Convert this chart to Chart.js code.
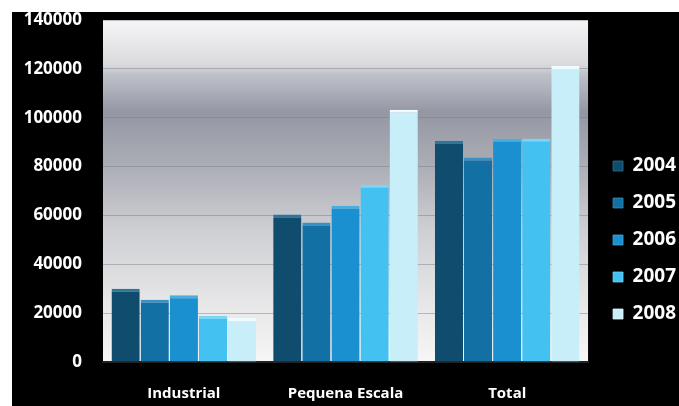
<!DOCTYPE html>
<html><head><meta charset="utf-8">
<script src="https://cdn.jsdelivr.net/npm/chart.js@4"></script>
<style>html,body{margin:0;padding:0;background:#000;overflow:hidden;}#wrap{width:679px;height:406px;}canvas{display:block;}</style>
</head><body><div id="wrap"><canvas id="c" width="679" height="406"></canvas></div>
<script>
const categories = ['Industrial', 'Pequena Escala', 'Total'];
const years = ['2004', '2005', '2006', '2007', '2008'];
const v2004 = [30000, 60400, 90600];
const v2005 = [25500, 57100, 83700];
const v2006 = [27300, 64000, 91400];
const v2007 = [18800, 72600, 91400];
const v2008 = [18000, 103300, 121200];
const yTicks = [0, 20000, 40000, 60000, 80000, 100000, 120000, 140000];

const seriesValues = [v2004, v2005, v2006, v2007, v2008];
const fills = ['#0f4c6d', '#1370a5', '#1a90d0', '#43c2f2', '#c8eefa'];
const tops  = ['#2f7596', '#3a90c0', '#48aee0', '#7ad6f6', '#eefbff'];

const bgPlugin = {
  id: 'bg',
  beforeDraw(chart) {
    const ctx = chart.ctx, a = chart.chartArea;
    ctx.save();
    ctx.fillStyle = '#ffffff';
    ctx.fillRect(0, 0, chart.width, chart.height);
    ctx.fillStyle = '#000000';
    ctx.fillRect(12, 12, chart.width - 12, chart.height - 12);
    const g = ctx.createLinearGradient(0, a.top, 0, a.bottom);
    g.addColorStop(0, '#f6f6f7');
    g.addColorStop(0.13, '#dadadd');
    g.addColorStop(0.16, '#bfc1c9');
    g.addColorStop(0.27, '#9497a3');
    g.addColorStop(0.42, '#abadb5');
    g.addColorStop(0.62, '#cfd0d4');
    g.addColorStop(0.86, '#eaeaeb');
    g.addColorStop(1, '#f6f6f6');
    ctx.fillStyle = g;
    ctx.fillRect(a.left, a.top, a.right - a.left, a.bottom - a.top);
    ctx.restore();
  },
  afterLayout(chart) {
    const lg = chart.legend;
    if (lg) { lg.top += 27; lg.bottom += 27; lg.left += 7; lg.right += 7; }
  }
};

new Chart(document.getElementById('c'), {
  type: 'bar',
  data: {
    labels: categories,
    datasets: years.map((y, i) => ({
      label: y,
      data: seriesValues[i],
      backgroundColor: fills[i],
      borderColor: tops[i],
      borderWidth: {top: 3, left: 0, right: 0, bottom: 0},
      borderSkipped: 'bottom',
      categoryPercentage: 0.9,
      barPercentage: 0.97
    }))
  },
  options: {
    responsive: false,
    animation: false,
    layout: {padding: {left: 15, top: 20, right: 0, bottom: 0}},
    plugins: {
      legend: {
        position: 'right',
        maxWidth: 93,
        labels: {
          color: '#ffffff',
          font: {family: 'Open Sans', size: 19, weight: 'bold'},
          boxWidth: 10, boxHeight: 10, padding: 18
        }
      },
      tooltip: {enabled: false}
    },
    scales: {
      x: {
        afterFit(s) { s.height = 44; },
        grid: {display: false, drawTicks: false},
        border: {color: '#222', width: 2},
        ticks: {color: '#ffffff', font: {family: 'Open Sans', size: 15, weight: 'bold'}, padding: 23}
      },
      y: {
        min: 0, max: 140000,
        afterBuildTicks(s) { s.ticks = yTicks.map(v => ({value: v})); },
        afterFit(s) { s.width = 88; },
        grid: {color: 'rgba(120,120,130,0.45)', drawTicks: true, tickLength: 21, tickColor: 'rgba(0,0,0,0)'},
        border: {display: false},
        ticks: {color: '#ffffff', font: {family: 'Open Sans', size: 17, weight: 'bold'}, padding: 0,
                callback: v => String(v)}
      }
    }
  },
  plugins: [bgPlugin]
});
</script></body></html>
